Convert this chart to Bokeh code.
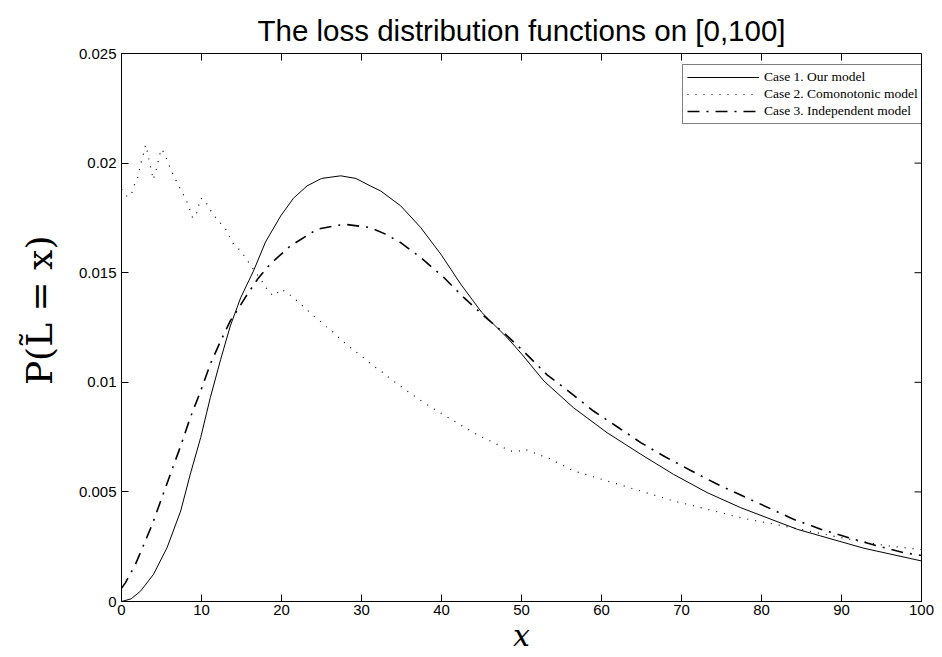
import math
from bokeh.plotting import figure
from bokeh.models import ColumnDataSource, FixedTicker, Legend, LegendItem, Range1d
from bokeh.embed import file_html
from bokeh.resources import INLINE

# ---------------- data ----------------
case1_x = [0, 1.2, 2.4, 4.0, 5.7, 7.4, 8.6, 9.9, 11.1, 12.4, 13.6, 14.9, 16.5, 18.0, 19.9,
           21.5, 23.2, 25.0, 27.4, 29.3, 31.1, 32.4, 34.9, 37.4, 40.0, 42.4, 45.0, 48.2, 50.0,
           52.8, 56.5, 60.7, 64.9, 69.0, 73.2, 77.4, 84.5, 87.4, 92.8, 100]
case1_p = [0, 0.00012, 0.00048, 0.00124, 0.00246, 0.00413, 0.00581, 0.00748, 0.0093, 0.01105,
           0.01257, 0.01386, 0.01508, 0.0164, 0.01759, 0.0184, 0.01896, 0.0193, 0.01942, 0.0193,
           0.01896, 0.01873, 0.01805, 0.01706, 0.0158, 0.01448, 0.0132, 0.01204, 0.0113, 0.01006,
           0.00884, 0.0077, 0.00672, 0.0058, 0.00497, 0.00428, 0.00329, 0.00299, 0.00243, 0.00185]

case2_x = [0, 0.7, 1.2, 1.5, 2.0, 2.5, 2.8, 3.0, 3.3, 3.5, 3.75, 3.95, 4.15, 4.45, 4.7, 4.95,
           5.35, 5.75, 6.15, 6.65, 7.1, 7.65, 8.15, 8.55, 8.9, 9.3, 9.6, 9.9, 10.4, 10.9, 11.5,
           12.2, 13.0, 13.5, 14.0, 14.8, 15.5, 16.1, 16.75, 17.4, 18.0, 18.6, 19.15, 19.9, 20.6,
           21.5, 22.3, 23.1, 24.0, 24.8, 25.6, 26.5, 27.3, 28.1, 29.0, 29.9, 30.7, 31.6, 32.5,
           34.25, 35.1, 37.0, 38.8, 40.7, 42.6, 44.5, 46.5, 47.6, 48.5, 49.5, 50.4, 51.5, 52.6,
           53.5, 56.5, 60.7, 64.9, 69.0, 73.2, 77.4, 84.5, 88.5, 92.4, 95.7, 100]
case2_p = [0.01881, 0.01847, 0.01854, 0.01892, 0.0193, 0.0201, 0.02048, 0.02083, 0.02044,
           0.02003, 0.01965, 0.01924, 0.01945, 0.01984, 0.02025, 0.02064, 0.02047, 0.02009,
           0.01972, 0.01934, 0.01899, 0.01863, 0.01825, 0.01787, 0.01749, 0.01762, 0.018,
           0.0184, 0.01832, 0.01797, 0.01764, 0.01733, 0.01701, 0.01665, 0.0163, 0.01603,
           0.01569, 0.01536, 0.01501, 0.0147, 0.01435, 0.01405, 0.01394, 0.01425, 0.01412,
           0.01386, 0.01359, 0.01334, 0.01303, 0.0128, 0.01254, 0.01227, 0.01199, 0.01174,
           0.01146, 0.01124, 0.01098, 0.01072, 0.01049, 0.00999, 0.00976, 0.00927, 0.00884,
           0.00842, 0.00801, 0.0076, 0.00725, 0.00705, 0.00687, 0.00684, 0.00695, 0.00679,
           0.00664, 0.00652, 0.00596, 0.0055, 0.00504, 0.00459, 0.00421, 0.00382, 0.00332,
           0.00302, 0.00274, 0.00254, 0.00237]

case3_x = [0, 0.5, 1.75, 2.8, 3.85, 4.9, 6.1, 7.4, 8.6, 9.9, 11.1, 12.4, 13.6, 14.5, 15.7,
           17.0, 18.6, 21.1, 24.5, 27.8, 31.1, 33.0, 34.9, 37.4, 40.3, 42.8, 45.3, 48.2, 50.3,
           53.2, 56.1, 59.0, 62.0, 64.9, 68.0, 71.1, 74.3, 77.4, 84.0, 87.4, 90.9, 94.5, 97.8, 100]
case3_p = [0.0006, 0.00086, 0.0017, 0.00261, 0.00352, 0.00459, 0.0058, 0.0071, 0.00839,
           0.00961, 0.01083, 0.01189, 0.0128, 0.0133, 0.014, 0.0147, 0.0154, 0.01622, 0.01699,
           0.01721, 0.01706, 0.01676, 0.01637, 0.01569, 0.01478, 0.01386, 0.01303, 0.01212,
           0.0114, 0.01034, 0.00953, 0.00869, 0.00796, 0.00725, 0.00659, 0.00599, 0.00538,
           0.00486, 0.00375, 0.0033, 0.00291, 0.00253, 0.00223, 0.0021]

series_labels = ["Case 1. Our model", "Case 2. Comonotonic model", "Case 3. Independent model"]
x_ticks = [0, 10, 20, 30, 40, 50, 60, 70, 80, 90, 100]
y_ticks = [0, 0.005, 0.01, 0.015, 0.02, 0.025]
y_tick_labels = ["0", "0.005", "0.01", "0.015", "0.02", "0.025"]
title_text = "The loss distribution functions on [0,100]"
x_label = "x"
y_label = "\u00a0\u00a0\u00a0P(L\u0303 = x)"
x_min, x_max = 0, 100
y_min, y_max = 0, 0.025

# ---------------- figure ----------------
p = figure(width=942, height=657, output_backend="svg", toolbar_location=None,
           x_range=Range1d(x_min, x_max), y_range=Range1d(y_min, y_max),
           min_border_left=121, min_border_right=21, min_border_top=53,
           min_border_bottom=56, background_fill_color="white",
           border_fill_color="white")
p.grid.visible = False
p.outline_line_color = "black"
p.outline_line_width = 1

p.title.text = title_text
p.title.text_font = "'Liberation Sans', Arial, sans-serif"
p.title.text_font_size = "29.5px"
p.title.text_font_style = "normal"
p.title.align = "center"
p.title.text_color = "black"
p.title.standoff = 14

tick_font = "'Liberation Sans', Arial, sans-serif"
for ax, ticks in ((p.xaxis[0], x_ticks), (p.yaxis[0], y_ticks)):
    ax.ticker = FixedTicker(ticks=ticks)
    ax.major_tick_in = 7
    ax.major_tick_out = 0
    ax.minor_tick_line_color = None
    ax.axis_line_color = "black"
    ax.major_tick_line_color = "black"
    ax.major_label_text_font = tick_font
    ax.major_label_text_font_size = "15px"
    ax.major_label_text_color = "black"
    ax.axis_label_text_color = "black"
    ax.axis_label_text_font = "'DejaVu Serif', serif"

p.xaxis[0].major_label_standoff = 3
p.xaxis[0].axis_label = x_label
p.xaxis[0].axis_label_text_font_style = "italic"
p.xaxis[0].axis_label_text_font_size = "30px"
p.xaxis[0].axis_label_standoff = 0

p.yaxis[0].major_label_standoff = 5
p.yaxis[0].major_label_overrides = {t: s for t, s in zip(y_ticks, y_tick_labels)}
p.yaxis[0].axis_label = y_label
p.yaxis[0].axis_label_text_font_style = "normal"
p.yaxis[0].axis_label_text_font_size = "36px"
p.yaxis[0].axis_label_standoff = 16

# inward tick marks on the top and right edges of the box (MATLAB style)
p.ray(x=x_ticks, y=[y_max] * len(x_ticks), length=7, length_units="screen",
      angle=-math.pi / 2, line_color="black", line_width=1)
p.ray(x=[x_max] * len(y_ticks), y=y_ticks, length=7, length_units="screen",
      angle=math.pi, line_color="black", line_width=1)

# ---------------- lines ----------------
s1 = ColumnDataSource(dict(x=case1_x, y=case1_p))
s2 = ColumnDataSource(dict(x=case2_x, y=case2_p))
s3 = ColumnDataSource(dict(x=case3_x, y=case3_p))

r1 = p.line("x", "y", source=s1, line_color="black", line_width=1)
r2 = p.line("x", "y", source=s2, line_color="black", line_width=1.2, line_dash="1 7")
r3 = p.line("x", "y", source=s3, line_color="black", line_width=1.6, line_dash="12 7 2 7")

legend = Legend(items=[LegendItem(label=series_labels[0], renderers=[r1]),
                       LegendItem(label=series_labels[1], renderers=[r2]),
                       LegendItem(label=series_labels[2], renderers=[r3])],
                location=(561, 477), margin=0, padding=4, spacing=1,
                glyph_width=72, glyph_height=16, label_height=16, label_standoff=5,
                label_text_font="'Liberation Serif', 'Times New Roman', serif",
                label_text_font_size="13.5px", label_text_color="black",
                border_line_color="black", border_line_width=1,
                background_fill_color="white", background_fill_alpha=1)
p.add_layout(legend)

open("out.html", "w").write(file_html(p, INLINE))
